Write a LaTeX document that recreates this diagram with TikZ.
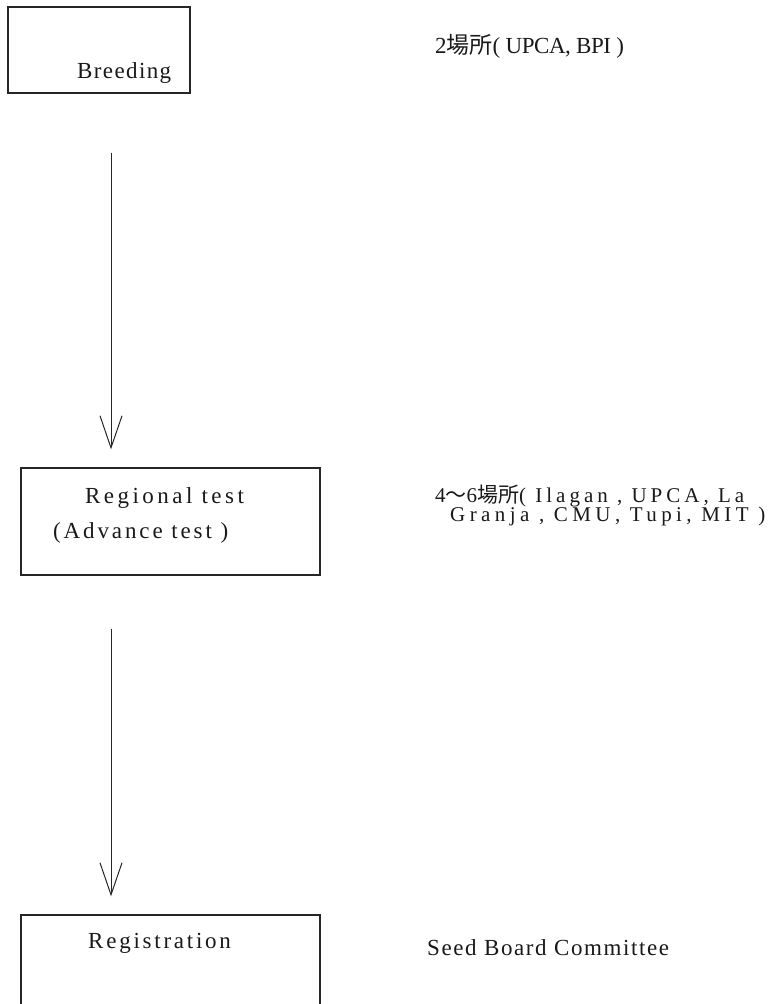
\documentclass[tikz,border=0pt]{standalone}
\usepackage{fontspec}
\setmainfont{Liberation Serif}
\newfontfamily\cjk{Noto Sans CJK JP}
\usetikzlibrary{arrows.meta}
\begin{document}
\begin{tikzpicture}[x=1pt,y=-1pt,
  stage/.style={draw=black!85,line width=1.3pt,rectangle,inner sep=0pt},
  lbl/.style={anchor=west,inner sep=0pt,text=black!90,
    font=\fontsize{23}{26}\selectfont\addfontfeature{LetterSpace=#1}},
  lbl/.default=10,
  small/.style={anchor=base west,inner sep=0pt,text=black!90,
    font=\fontsize{21}{23}\selectfont\addfontfeature{LetterSpace=#1}},
  flow/.style={draw=black!85,line width=1pt,-{Straight Barb[length=32pt,width=22pt,line width=1pt]}}]
  \useasboundingbox (0,0) rectangle (775,1004);
  \clip (0,0) rectangle (775,1004);
  % stage boxes
  \node[stage,minimum width=182pt,minimum height=86pt] (breed) at (99,50) {};
  \node[stage,minimum width=299pt,minimum height=107pt] (regional) at (170.5,521.5) {};
  \node[stage,minimum width=299pt,minimum height=110pt] (regist) at (170.5,970) {};
  % box captions
  \node[lbl=6] (tbreed) at (77,73) {Breeding};
  \node[lbl=15] (treg1) at (85,498) {Regional test};
  \node[lbl=12.5] (treg2) at (53,533) {(Advance test )};
  \node[lbl=12] (tregist) at (88,943) {Registration};
  % side notes
  \node[lbl=-2] (n1) at (435,46) {2{\cjk 場所}( UPCA, BPI )};
  \node[small=19] (n2a) at (435,502) {4{\cjk 〜}6{\cjk 場所}( Ilagan , UPCA, La};
  \node[small=21] (n2b) at (450,521) {Granja , CMU, Tupi, MIT )};
  \node[lbl=7] (n3) at (427,948) {Seed Board Committee};
  % flow arrows
  \draw[flow,shorten <=59pt,shorten >=18pt] ([xshift=12pt]breed.south) -- ([xshift=12pt]breed.south |- regional.north);
  \draw[flow,shorten <=53pt,shorten >=18pt] ([xshift=-59.5pt]regional.south) -- ([xshift=-59.5pt]regional.south |- regist.north);
\end{tikzpicture}
\end{document}
